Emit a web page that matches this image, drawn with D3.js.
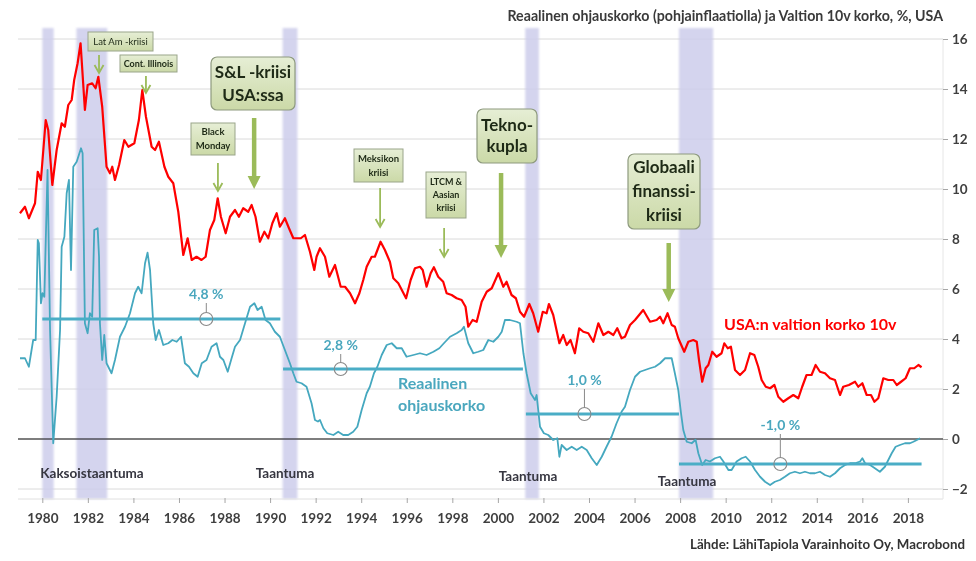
<!DOCTYPE html>
<html><head><meta charset="utf-8">
<script src="https://cdn.jsdelivr.net/npm/d3@7"></script>
<style>body{margin:0;background:#fff}svg{display:block}text{font-family:Lato,"Open Sans",sans-serif}</style>
</head><body><svg id="c" width="976" height="561"></svg>
<script>
// ---------- DATA ----------
const yearTicks = [1980,1982,1984,1986,1988,1990,1992,1994,1996,1998,2000,2002,2004,2006,2008,2010,2012,2014,2016,2018];
const valueTicks = [-2,0,2,4,6,8,10,12,14,16];

// USA 10y government bond yield, % [decimal year, value]
const govt10y = [
[1979.02,9.03],[1979.24,9.29],[1979.41,8.83],[1979.68,9.43],[1979.8,10.69],[1979.94,10.36],[1980.15,12.76],[1980.26,12.36],[1980.44,10.16],[1980.63,11.56],[1980.85,12.63],[1980.99,12.49],[1981.14,13.36],[1981.29,13.56],[1981.4,14.36],[1981.55,15.03],[1981.68,15.83],[1981.87,13.16],[1981.99,14.16],[1982.19,14.23],[1982.34,14.03],[1982.46,14.49],[1982.63,13.29],[1982.82,10.89],[1982.97,10.63],[1983.07,10.89],[1983.19,10.36],[1983.37,10.96],[1983.6,11.96],[1983.78,11.69],[1984.04,11.83],[1984.24,12.76],[1984.39,13.96],[1984.55,12.89],[1984.8,11.69],[1984.95,11.56],[1985.12,11.89],[1985.36,10.89],[1985.53,10.49],[1985.75,10.23],[1985.97,9.09],[1986.19,7.36],[1986.38,8.03],[1986.56,7.16],[1986.77,7.29],[1986.99,7.16],[1987.17,7.29],[1987.36,8.36],[1987.55,8.76],[1987.7,9.63],[1987.84,8.89],[1988.05,8.23],[1988.24,8.89],[1988.46,9.16],[1988.63,8.89],[1988.82,9.23],[1989.04,9.09],[1989.19,9.36],[1989.36,8.89],[1989.55,7.89],[1989.75,8.29],[1989.92,8.03],[1990.1,8.63],[1990.29,9.03],[1990.43,8.49],[1990.65,8.83],[1990.83,8.43],[1991.02,8.03],[1991.35,8.03],[1991.53,8.16],[1991.75,7.49],[1991.94,6.76],[1992.04,7.29],
[1992.19,7.63],[1992.41,7.29],[1992.6,6.49],[1992.85,6.96],[1993.1,6.09],[1993.29,6.09],[1993.51,5.83],[1993.73,5.43],[1993.92,5.83],[1994.09,6.36],[1994.24,6.89],[1994.46,7.29],[1994.6,7.29],[1994.85,7.89],[1995.04,7.56],[1995.26,7.09],[1995.41,6.43],[1995.63,6.23],[1995.97,5.63],[1996.17,6.36],[1996.36,6.83],[1996.58,6.89],[1996.7,6.76],[1996.87,6.09],[1997.05,6.63],[1997.19,6.87],[1997.38,6.49],[1997.6,6.29],[1997.75,5.83],[1997.97,5.76],[1998.19,5.63],[1998.41,5.56],[1998.58,5.29],[1998.7,4.49],[1998.89,4.76],[1999.07,4.69],[1999.29,5.49],[1999.51,5.89],[1999.73,6.03],[2000.02,6.63],[2000.24,6.09],[2000.38,6.29],[2000.6,5.76],[2000.79,5.63],[2000.97,5.09],[2001.15,4.89],[2001.38,5.4],[2001.55,5.03],[2001.77,4.29],[2001.97,5.09],[2002.14,5.03],[2002.24,5.4],[2002.43,4.96],[2002.7,3.83],[2002.87,4.16],[2003.02,3.76],[2003.19,3.96],[2003.38,3.43],[2003.57,4.43],[2003.75,4.29],[2003.97,4.23],[2004.19,3.89],[2004.41,4.63],[2004.63,4.16],[2004.85,4.29],[2005.07,4.16],[2005.24,4.43],[2005.43,4.03],
[2005.58,4.09],[2005.8,4.56],[2006.02,4.76],[2006.38,5.16],[2006.68,4.69],[2006.97,4.76],[2007.12,4.89],[2007.26,4.63],[2007.45,5.03],[2007.63,4.56],[2007.77,4.49],[2007.92,4.03],[2008.18,3.49],[2008.36,3.89],[2008.58,3.96],[2008.73,3.89],[2008.83,3.16],[2008.97,2.29],[2009.12,2.83],[2009.24,2.96],[2009.41,3.49],[2009.6,3.29],[2009.82,3.43],[2009.94,3.83],[2010.09,3.63],[2010.23,3.69],[2010.41,2.76],[2010.63,2.56],[2010.85,2.76],[2011.07,3.43],[2011.26,3.36],[2011.43,2.89],[2011.58,2.36],[2011.76,2.09],[2011.95,2.03],[2012.14,2.16],[2012.31,1.69],[2012.53,1.49],[2012.75,1.63],[2012.97,1.76],[2013.19,1.63],[2013.36,2.09],[2013.55,2.56],[2013.77,2.56],[2013.95,2.96],[2014.14,2.69],[2014.36,2.63],[2014.58,2.43],[2014.8,2.36],[2015.02,1.76],[2015.16,2.09],[2015.41,2.16],[2015.68,2.29],[2015.82,2.09],[2016.0,2.23],[2016.19,1.76],[2016.38,1.76],[2016.53,1.49],[2016.7,1.63],[2016.92,2.43],[2017.14,2.36],[2017.36,2.36],[2017.51,2.16],[2017.7,2.29],[2017.9,2.43],[2018.09,2.83],[2018.28,2.83],[2018.46,2.96],[2018.6,2.87]
];

// Real policy rate (deflated with core inflation), % [decimal year, value]
const realRate = [
[1979.02,3.23],[1979.24,3.23],[1979.41,2.89],[1979.6,3.96],[1979.71,3.96],[1979.8,7.96],[1979.85,7.83],[1979.94,5.43],[1980.01,5.83],[1980.09,5.69],[1980.23,10.76],[1980.34,4.36],[1980.48,-0.17],[1980.63,1.69],[1980.78,4.36],[1980.85,7.69],[1980.97,8.09],[1981.07,9.83],[1981.17,10.36],[1981.26,6.76],[1981.36,10.89],[1981.51,11.09],[1981.7,11.63],[1981.77,11.43],[1981.87,4.63],[1981.99,4.23],[1982.09,5.03],[1982.19,4.89],[1982.28,8.36],[1982.43,8.43],[1982.49,7.29],[1982.53,4.63],[1982.63,3.16],[1982.72,4.16],[1982.82,3.03],[1983.04,2.63],[1983.19,3.16],[1983.41,4.09],[1983.63,4.49],[1983.85,5.03],[1984.07,5.83],[1984.21,6.09],[1984.36,5.83],[1984.51,7.03],[1984.62,7.45],[1984.73,6.76],[1984.87,4.63],[1984.98,3.96],[1985.12,4.36],[1985.31,3.76],[1985.53,3.83],[1985.71,3.96],[1985.9,3.89],[1986.09,4.09],[1986.26,3.03],[1986.44,2.89],[1986.63,2.63],[1986.82,2.49],[1987.0,3.03],[1987.21,3.16],[1987.43,3.69],[1987.65,3.83],[1987.8,3.29],[1987.95,3.16],[1988.14,2.69],[1988.31,3.23],[1988.46,3.69],[1988.68,3.96],[1988.9,4.63],[1989.12,5.29],[1989.31,5.43],[1989.45,5.16],[1989.63,5.29],[1989.8,4.76],[1989.99,4.63],[1990.21,4.29],[1990.43,4.09],[1990.65,3.56],[1990.87,3.03],[1991.02,2.63],[1991.16,2.29],[1991.38,2.23],[1991.6,2.09],[1991.82,1.43],[1991.97,0.76],[1992.1,0.7],
[1992.19,0.76],[1992.34,0.43],[1992.51,0.23],[1992.78,0.16],[1992.99,0.29],[1993.21,0.16],[1993.43,0.16],[1993.65,0.29],[1993.83,0.49],[1994.02,1.16],[1994.24,1.83],[1994.38,2.09],[1994.56,2.63],[1994.71,2.89],[1994.9,3.36],[1995.12,3.76],[1995.34,3.83],[1995.56,3.63],[1995.78,3.63],[1995.99,3.29],[1996.29,3.36],[1996.58,3.43],[1996.87,3.36],[1997.17,3.49],[1997.43,3.63],[1997.63,3.83],[1997.9,4.09],[1998.19,4.23],[1998.41,4.36],[1998.51,4.49],[1998.7,3.83],[1998.92,3.43],[1999.14,3.49],[1999.36,3.56],[1999.58,3.96],[1999.8,3.89],[2000.02,4.09],[2000.17,4.29],[2000.31,4.76],[2000.53,4.76],[2000.82,4.69],[2000.97,4.63],[2001.12,3.43],[2001.26,2.63],[2001.44,1.83],[2001.63,1.56],[2001.7,1.76],[2001.85,0.49],[2002.02,0.23],[2002.21,0.16],[2002.43,-0.04],[2002.61,0.03],[2002.7,-0.71],[2002.8,-0.24],[2003.02,-0.44],[2003.24,-0.31],[2003.46,-0.44],[2003.68,-0.31],[2003.9,-0.44],[2004.12,-0.77],[2004.34,-1.04],[2004.56,-0.71],[2004.77,-0.31],[2004.99,0.09],[2005.21,0.63],[2005.43,1.09],
[2005.58,1.29],[2005.8,1.96],[2006.02,2.49],[2006.24,2.69],[2006.46,2.76],[2006.68,2.83],[2006.9,2.89],[2007.12,3.03],[2007.34,3.23],[2007.63,3.23],[2007.77,2.63],[2007.92,1.96],[2008.04,1.03],[2008.14,0.36],[2008.29,-0.11],[2008.51,-0.17],[2008.68,-0.03],[2008.8,-0.57],[2008.97,-1.04],[2009.12,-0.84],[2009.31,-0.9],[2009.53,-0.77],[2009.75,-0.71],[2009.9,-0.9],[2010.12,-1.24],[2010.26,-1.24],[2010.48,-0.9],[2010.7,-0.77],[2010.88,-0.71],[2011.07,-0.9],[2011.29,-1.24],[2011.51,-1.51],[2011.73,-1.71],[2011.95,-1.84],[2012.16,-1.71],[2012.38,-1.64],[2012.6,-1.51],[2012.82,-1.37],[2013.04,-1.31],[2013.26,-1.37],[2013.48,-1.31],[2013.7,-1.37],[2013.92,-1.37],[2014.14,-1.31],[2014.36,-1.44],[2014.58,-1.51],[2014.8,-1.37],[2015.02,-1.17],[2015.24,-1.04],[2015.46,-0.97],[2015.68,-0.97],[2015.9,-0.9],[2016.0,-0.77],[2016.12,-0.97],[2016.34,-1.04],[2016.55,-1.17],[2016.77,-1.31],[2016.99,-1.11],[2017.14,-0.84],[2017.29,-0.57],[2017.46,-0.31],[2017.65,-0.24],[2017.87,-0.17],[2018.09,-0.17],[2018.24,-0.11],[2018.46,-0.01],[2018.53,0.03]
];

// Recessions (shaded)
const recessionStart = [1980.0, 1981.5, 1990.55, 2001.2, 2007.95];
const recessionEnd   = [1980.5, 1982.85, 1991.2, 2001.8, 2009.45];
const recessionNames = ["Kaksoistaantuma","Taantuma","Taantuma","Taantuma"];

// Period averages of the real policy rate
const avgStart = [1980.0, 1990.57, 2001.23, 2007.95];
const avgEnd   = [1990.45, 2001.1, 2007.95, 2018.6];
const avgValue = [4.8, 2.8, 1.0, -1.0];
const avgLabel = ["4,8 %","2,8 %","1,0 %","-1,0 %"];
const avgMarkYear = [1987.2, 1993.1, 2003.8, 2012.4];

// Crisis annotations
const crisisNames = [["Lat Am -kriisi"],["Cont. Illinois"],["Black","Monday"],["S&L -kriisi","USA:ssa"],["Meksikon","kriisi"],["LTCM &","Aasian","kriisi"],["Tekno-","kupla"],["Globaali","finanssi-","kriisi"]];
const crisisYears = [1982.49, 1984.55, 1987.71, 1989.3, 1994.83, 1997.64, 2000.14, 2007.5];

// ---------- LAYOUT ----------
const W = 976, H = 561;
const plotL = 18, plotR = 943, plotT = 28, plotB = 499;
const svg = d3.select("#c");
svg.append("rect").attr("width",W).attr("height",H).attr("fill","#fff");

const x = d3.scaleLinear().domain([1980, 2018]).range([42.3, 907.9]);
const y = d3.scaleLinear().domain([-2, 16]).range([489, 39]);

const defs = svg.append("defs");
defs.append("filter").attr("id","soft").attr("x","-50%").attr("width","200%")
  .append("feGaussianBlur").attr("stdDeviation",1.2);
const grad = defs.append("linearGradient").attr("id","boxg").attr("x1",0).attr("y1",0).attr("x2",0).attr("y2",1);
grad.append("stop").attr("offset","0%").attr("stop-color","#e6eed5");
grad.append("stop").attr("offset","100%").attr("stop-color","#cbd9a7");

// grid
svg.append("g").selectAll("line").data(valueTicks).join("line")
  .attr("x1",plotL).attr("x2",plotR).attr("y1",d=>y(d)).attr("y2",d=>y(d))
  .attr("stroke","#dadada").attr("stroke-width",1);

// recession bands
svg.append("g").attr("filter","url(#soft)").selectAll("rect").data(recessionStart).join("rect")
  .attr("x",(d)=>x(d)).attr("width",(d,i)=>x(recessionEnd[i])-x(d))
  .attr("y",plotT).attr("height",plotB-plotT)
  .attr("fill","#cdcdeb").attr("opacity",0.85);

// bottom axis line & right axis line
svg.append("line").attr("x1",plotL).attr("x2",plotR).attr("y1",plotB).attr("y2",plotB).attr("stroke","#e0e0e0");
svg.append("line").attr("x1",plotR).attr("x2",plotR).attr("y1",y(16)).attr("y2",plotB).attr("stroke","#e6e6e6");

// axes
const xAxis = svg.append("g").attr("transform",`translate(0,${plotB-1})`)
  .call(d3.axisBottom(x).tickValues(yearTicks).tickFormat(d3.format("d")).tickSize(5).tickPadding(10));
const yAxis = svg.append("g").attr("transform",`translate(${plotR},0)`)
  .call(d3.axisRight(y).tickValues(valueTicks).tickSize(5).tickPadding(4));
[xAxis,yAxis].forEach(g=>{
  g.select(".domain").remove();
  g.selectAll(".tick line").attr("stroke","#a6a6a6");
  g.selectAll("text").attr("font-family","Lato").attr("font-size",13.5).attr("font-weight",700).attr("fill","#3f3f3f");
});

// zero line
svg.append("line").attr("x1",plotL).attr("x2",plotR).attr("y1",y(0)).attr("y2",y(0)).attr("stroke","#111").attr("stroke-width",1.2);

// recession labels
const recLabelPos = [[92,478],[285,478],[528,481],[687,486]];
svg.append("g").selectAll("text").data(recessionNames).join("text")
  .attr("x",(d,i)=>recLabelPos[i][0]).attr("y",(d,i)=>recLabelPos[i][1])
  .attr("text-anchor","middle").attr("font-size",13.5).attr("font-weight",700).attr("fill","#363640").text(d=>d);

// series
const line = d3.line().x(d=>x(d[0])).y(d=>y(d[1]));
svg.append("path").datum(realRate).attr("d",line).attr("fill","none").attr("stroke","#45a8bf").attr("stroke-width",1.8).attr("stroke-linejoin","round");
svg.append("path").datum(govt10y).attr("d",line).attr("fill","none").attr("stroke","#ff0000").attr("stroke-width",2.2).attr("stroke-linejoin","round");

// average lines
svg.append("g").selectAll("line").data(avgValue).join("line")
  .attr("x1",(d,i)=>x(avgStart[i])).attr("x2",(d,i)=>x(avgEnd[i]))
  .attr("y1",d=>y(d)).attr("y2",d=>y(d))
  .attr("stroke","#4aadc6").attr("stroke-width",3);

// average labels with leader + circle
const labelGap = [20, 19, 29, 34];
const ag = svg.append("g");
avgValue.forEach((v,i)=>{
  const cx = x(avgMarkYear[i]), cy = y(v);
  ag.append("line").attr("x1",cx).attr("x2",cx).attr("y1",cy-labelGap[i]+4).attr("y2",cy-6.5).attr("stroke","#8a8a8a").attr("stroke-width",1);
  ag.append("circle").attr("cx",cx).attr("cy",cy).attr("r",6.5).attr("fill","none").attr("stroke","#8a8a8a").attr("stroke-width",1.1);
  ag.append("text").attr("x",cx).attr("y",cy-labelGap[i]).attr("text-anchor","middle")
    .attr("font-size",14).attr("font-weight",700).attr("fill","#4aa7be").text(avgLabel[i]);
});

// series labels
svg.append("text").attr("x",724).attr("y",330).attr("font-size",16).attr("font-weight",700).attr("fill","#ff0000").text("USA:n valtion korko 10v");
svg.append("text").attr("x",398).attr("y",389).attr("font-size",16).attr("font-weight",700).attr("fill","#4aa7be").text("Reaalinen");
svg.append("text").attr("x",398).attr("y",411).attr("font-size",16).attr("font-weight",700).attr("fill","#4aa7be").text("ohjauskorko");

// crisis annotations (boxes + arrows)
const boxLayout = [
 {x:88,y:32,w:65,h:19,size:9.5,weight:400,lh:12,r:0, a1:55,a2:73,thick:false},
 {x:120,y:55,w:57,h:17,size:9,weight:700,lh:12,r:0, a1:76,a2:93,thick:false},
 {x:191,y:123,w:44,h:32,size:9.5,weight:700,lh:14,r:0, a1:163,a2:191,thick:false},
 {x:211,y:57,w:84,h:53,size:17,weight:700,lh:23,r:6, a1:118,a2:189,thick:true},
 {x:354,y:149,w:49,h:33,size:9.5,weight:700,lh:14,r:0, a1:188,a2:227,thick:false},
 {x:426,y:172,w:40,h:46,size:9,weight:700,lh:13,r:0, a1:228,a2:257,thick:false},
 {x:477,y:109,w:60,h:54,size:17,weight:700,lh:21,r:6, a1:173,a2:258,thick:true},
 {x:628,y:154,w:72,h:75,size:17,weight:700,lh:24,r:6, a1:243,a2:302,thick:true}
];
const cg = svg.append("g");
crisisNames.forEach((lines,i)=>{
  const b = boxLayout[i];
  cg.append("rect").attr("x",b.x).attr("y",b.y).attr("width",b.w).attr("height",b.h).attr("rx",b.r)
    .attr("fill","url(#boxg)").attr("stroke",b.r? "#8e9a7e":"#9aa58a").attr("stroke-width",b.r?1.2:1);
  const cy = b.y + b.h/2;
  lines.forEach((t,k)=>{
    cg.append("text").attr("x",b.x+b.w/2).attr("y",cy+(k-(lines.length-1)/2)*b.lh).attr("dy","0.35em")
      .attr("text-anchor","middle").attr("font-size",b.size).attr("font-weight",b.weight).attr("fill","#1e2a16").text(t);
  });
  const ax = x(crisisYears[i]);
  const col = "#9bbb59";
  if (b.thick) {
    cg.append("line").attr("x1",ax).attr("x2",ax).attr("y1",b.a1).attr("y2",b.a2-11).attr("stroke",col).attr("stroke-width",4.5);
    cg.append("path").attr("d",`M${ax-6.5},${b.a2-13}L${ax+6.5},${b.a2-13}L${ax},${b.a2}Z`).attr("fill",col);
  } else {
    cg.append("line").attr("x1",ax).attr("x2",ax).attr("y1",b.a1).attr("y2",b.a2).attr("stroke",col).attr("stroke-width",1.8);
    cg.append("path").attr("d",`M${ax-4.5},${b.a2-8}L${ax},${b.a2}L${ax+4.5},${b.a2-8}`).attr("fill","none").attr("stroke",col).attr("stroke-width",1.8);
  }
});

// title & source
svg.append("text").attr("x",943).attr("y",21).attr("text-anchor","end").attr("font-size",14.2).attr("font-weight",700).attr("fill","#3a3a3a")
  .text("Reaalinen ohjauskorko (pohjainflaatiolla) ja Valtion 10v korko, %, USA");
svg.append("text").attr("x",965).attr("y",549).attr("text-anchor","end").attr("font-size",13.3).attr("font-weight",700).attr("fill","#333")
  .text("Lähde: LähiTapiola Varainhoito Oy, Macrobond");
</script></body></html>
